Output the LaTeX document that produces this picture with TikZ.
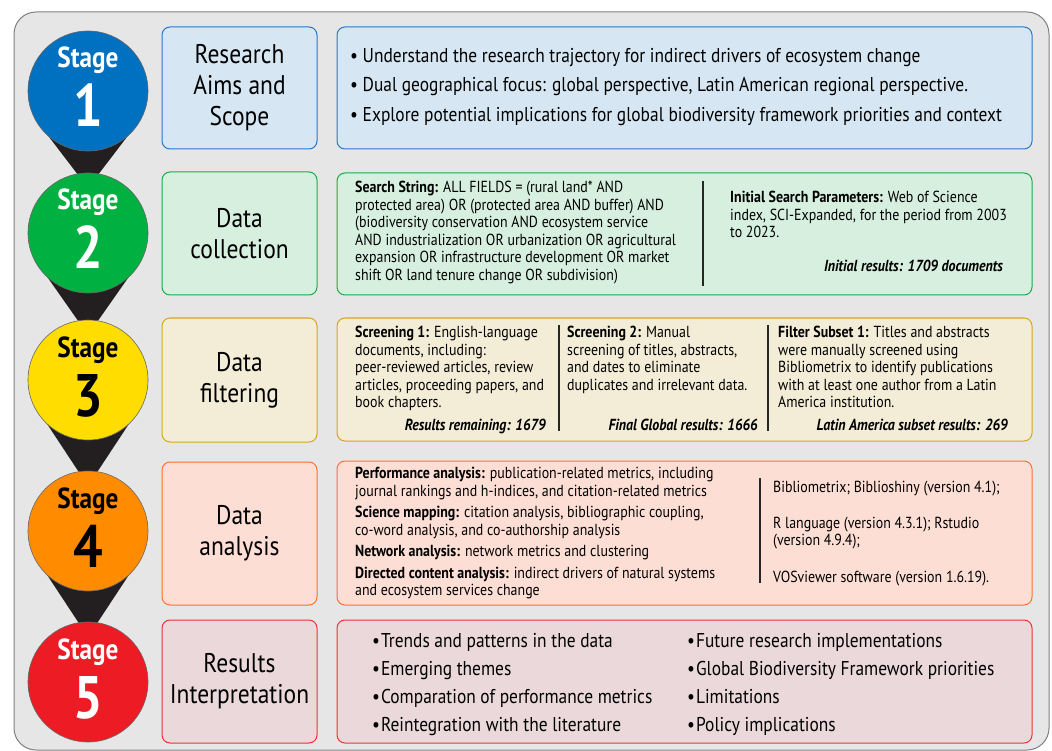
\documentclass[tikz,border=0pt]{standalone}
\usepackage{fontspec}
\setmainfont[FakeStretch=0.87]{PT Sans}
\usetikzlibrary{positioning, calc}

% stage colours
\definecolor{stageblue}{RGB}{0,112,192}
\definecolor{stagegreen}{RGB}{0,176,64}
\definecolor{stageyellow}{RGB}{255,221,0}
\definecolor{stageorange}{RGB}{255,140,0}
\definecolor{stagered}{RGB}{237,28,36}
% box fills and borders
\definecolor{fillblue}{RGB}{214,231,243}
\definecolor{lineblue}{RGB}{40,120,200}
\definecolor{fillgreen}{RGB}{214,239,222}
\definecolor{linegreen}{RGB}{30,170,70}
\definecolor{fillyellow}{RGB}{243,236,214}
\definecolor{lineyellow}{RGB}{215,165,30}
\definecolor{fillorange}{RGB}{253,222,212}
\definecolor{lineorange}{RGB}{255,112,50}
\definecolor{fillred}{RGB}{234,216,219}
\definecolor{linered}{RGB}{238,50,50}
\definecolor{panelgray}{RGB}{230,230,230}
\definecolor{funnelblack}{RGB}{35,31,32}

\pgfdeclarelayer{panel}
\pgfdeclarelayer{links}
\pgfsetlayers{panel,links,main}

\begin{document}
\begin{tikzpicture}[x=1pt, y=-1pt,
    stagecirc/.style={circle, draw=black!60, line width=0.6pt, minimum size=120pt, inner sep=0pt},
    stagename/.style={anchor=base, inner sep=0pt, font=\fontsize{29}{29}\selectfont\bfseries},
    stagenum/.style={anchor=base, inner sep=0pt, font=\fontsize{60}{60}\selectfont\bfseries},
    titlebox/.style={rectangle, rounded corners=8pt, line width=1pt, minimum width=155pt,
                     align=center, font=\fontsize{27}{31}\selectfont},
    infobox/.style={rectangle, rounded corners=8pt, line width=1pt, minimum width=695pt},
    body/.style={anchor=north west, inner sep=0pt, align=left, font=\fontsize{16}{17.5}\selectfont},
    bigbody/.style={anchor=north west, inner sep=0pt, align=left, font=\fontsize{20}{29.5}\selectfont},
    result/.style={anchor=base east, inner sep=0pt, font=\fontsize{16}{17.5}\selectfont\bfseries\itshape},
    divider/.style={line width=1.5pt, black!85},
    funnel/.style={fill=funnelblack}
]
    \useasboundingbox (0,0) rectangle (1052,751);

    % Grey panel
    \begin{pgfonlayer}{panel}
        \draw[fill=panelgray, draw=black!50, line width=1pt, rounded corners=22pt]
            (14,12) rectangle (1049,750);
    \end{pgfonlayer}

    % Stage circles
    \foreach \n/\y/\col/\txt in {1/91/stageblue/white, 2/233/stagegreen/white,
            3/380/stageyellow/black, 4/531/stageorange/black, 5/682/stagered/white} {
        \node[stagecirc, fill=\col] (s\n) at (88,\y) {};
        \node[stagename, text=\txt] (st\n) at ([yshift=23pt]s\n.center) {Stage};
        \node[stagenum, text=\txt] (num\n) at ([yshift=-36pt]s\n.center) {\n};
    }

    % Funnels between stages
    \begin{pgfonlayer}{links}
        \foreach \n/\m in {1/2, 2/3, 3/4, 4/5}
            \fill[funnel] ($(s\n.center)+(-43.5,40)$) -- ($(s\n.center)+(43.5,40)$)
                -- ($(s\m.center)+(0,-45)$) -- cycle;
    \end{pgfonlayer}

    % Stage titles
    \node[titlebox, fill=fillblue, draw=lineblue, minimum height=122pt] (t1) at (239.5,88) {Research\\Aims and\\Scope};
    \node[titlebox, fill=fillgreen, draw=linegreen, minimum height=123pt] (t2) at (239.5,233.5) {Data\\collection};
    \node[titlebox, fill=fillyellow, draw=lineyellow, minimum height=124pt] (t3) at (239.5,380) {Data\\filtering};
    \node[titlebox, fill=fillorange, draw=lineorange, minimum height=143pt] (t4) at (239.5,533.5) {Data\\analysis};
    \node[titlebox, fill=fillred, draw=linered, minimum height=123pt] (t5) at (239.5,681.5) {Results\\Interpretation};

    % Detail boxes
    \node[infobox, fill=fillblue, draw=lineblue, minimum height=122pt] (d1) at (684.5,88) {};
    \node[infobox, fill=fillgreen, draw=linegreen, minimum height=122pt] (d2) at (684.5,234) {};
    \node[infobox, fill=fillyellow, draw=lineyellow, minimum height=123pt] (d3) at (684.5,379.5) {};
    \node[infobox, fill=fillorange, draw=lineorange, minimum height=144pt] (d4) at (684.5,533) {};
    \node[infobox, fill=fillred, draw=linered, minimum height=123pt] (d5) at (684.5,681.5) {};

    % Stage 1
    \node[bigbody] (aims) at (350,48) {%
        • Understand the research trajectory for indirect drivers of ecosystem change\\
        • Dual geographical focus: global perspective, Latin American regional perspective.\\
        • Explore potential implications for global biodiversity framework priorities and context};

    % Stage 2
    \node[body] (search) at (355,181) {%
        \textbf{Search String:} ALL FIELDS = (rural land* AND\\
        protected area) OR (protected area AND buffer) AND\\
        (biodiversity conservation AND ecosystem service\\
        AND industrialization OR urbanization OR agricultural\\
        expansion OR infrastructure development OR market\\
        shift OR land tenure change OR subdivision)};
    \draw[divider] (703,181) -- (703,286);
    \node[body] (params) at (730,191) {%
        \textbf{Initial Search Parameters:} Web of Science\\
        index, SCI-Expanded, for the period from 2003\\
        to 2023.};
    \node[result] (res2) at (1003,272) {Initial results: 1709 documents};

    % Stage 3
    \node[body] (scr1) at (355,326) {%
        \textbf{Screening 1:} English-language\\
        documents, including:\\
        peer-reviewed articles, review\\
        articles, proceeding papers, and\\
        book chapters.};
    \node[result] (res31) at (546,430) {Results remaining: 1679};
    \draw[divider] (559,325) -- (559,431);
    \node[body] (scr2) at (567,326) {%
        \textbf{Screening 2:} Manual\\
        screening of titles, abstracts,\\
        and dates to eliminate\\
        duplicates and irrelevant data.};
    \node[result] (res32) at (758,430) {Final Global results: 1666};
    \draw[divider] (768,325) -- (768,431);
    \node[body] (subset) at (778,326) {%
        \textbf{Filter Subset 1:} Titles and abstracts\\
        were manually screened using\\
        Bibliometrix to identify publications\\
        with at least one author from a Latin\\
        America institution.};
    \node[result] (res33) at (1008,430) {Latin America subset results: 269};

    % Stage 4
    \node[body] (methods) at (355,467) {%
        \textbf{Performance analysis:} publication-related metrics, including\\
        journal rankings and h-indices, and citation-related metrics\\[4pt]
        \textbf{Science mapping:} citation analysis, bibliographic coupling,\\
        co-word analysis, and co-authorship analysis\\[4pt]
        \textbf{Network analysis:} network metrics and clustering\\[4pt]
        \textbf{Directed content analysis:} indirect drivers of natural systems\\
        and ecosystem services change};
    \draw[divider] (760,478) -- (760,583);
    \node[body] (tools) at (773,481) {%
        Bibliometrix; Biblioshiny (version 4.1);\\[18pt]
        R language (version 4.3.1); Rstudio\\
        (version 4.9.4);\\[19pt]
        VOSviewer software (version 1.6.19).};

    % Stage 5
    \node[bigbody, font=\fontsize{20}{28}\selectfont] (outl) at (372,633) {%
        •\kern1pt Trends and patterns in the data\\
        •\kern1pt Emerging themes\\
        •\kern1pt Comparation of performance metrics\\
        •\kern1pt Reintegration with the literature};
    \node[bigbody, font=\fontsize{20}{28}\selectfont] (outr) at (687,633) {%
        •\kern1pt Future research implementations\\
        •\kern1pt Global Biodiversity Framework priorities\\
        •\kern1pt Limitations\\
        •\kern1pt Policy implications};

\end{tikzpicture}
\end{document}
